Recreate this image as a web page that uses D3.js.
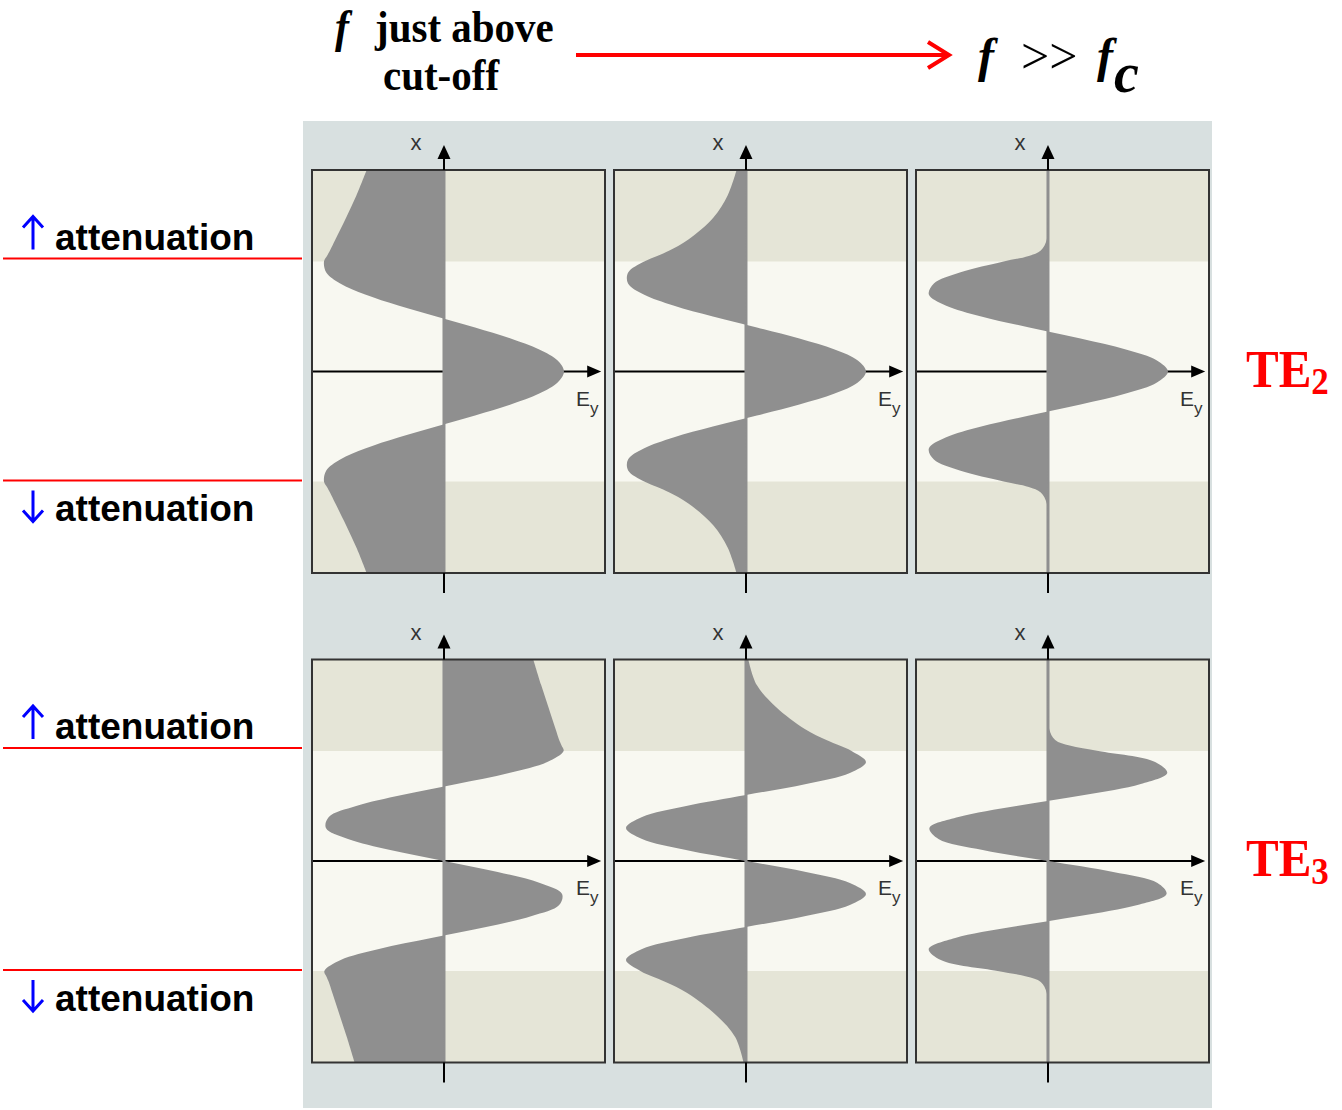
<!DOCTYPE html>
<html>
<head>
<meta charset="utf-8">
<script src="https://cdn.jsdelivr.net/npm/d3@7"></script>
<style>
body { margin: 0; background: #fff; }
svg { display: block; }
</style>
</head>
<body>
<svg class="chart"></svg>
<script>
var width = 1342, height = 1110;

// position across the slab, core edges at -1 and +1
var positions = [-1.83, -1.6, -1.4, -1.2, -1.1, -1.05, -1, -0.9, -0.8, -0.7, -0.6, -0.5, -0.4, -0.3, -0.2, -0.1, 0,
                 0.1, 0.2, 0.3, 0.4, 0.5, 0.6, 0.7, 0.8, 0.9, 1, 1.05, 1.1, 1.2, 1.4, 1.6, 1.83];

// E_y (peak = 1). near = just above cut-off, far = f >> fc
var te2Near = [-0.645, -0.73, -0.815, -0.905, -0.95, -0.975, -1.0, -0.981, -0.865, -0.657, -0.381, -0.064, 0.259, 0.556, 0.794, 0.947, 1.0,
               0.947, 0.794, 0.556, 0.259, -0.064, -0.381, -0.657, -0.865, -0.981, -1.0, -0.975, -0.95, -0.905, -0.815, -0.73, -0.645];
var te2Mid = [-0.079, -0.153, -0.271, -0.48, -0.638, -0.74, -0.848, -0.982, -0.983, -0.852, -0.605, -0.276, 0.091, 0.445, 0.739, 0.932, 1.0,
              0.932, 0.739, 0.445, 0.091, -0.276, -0.605, -0.852, -0.983, -0.982, -0.848, -0.74, -0.638, -0.48, -0.271, -0.153, -0.079];
var te2Far = [0, 0, 0, -0.01, -0.06, -0.16, -0.37, -0.735, -0.951, -0.993, -0.853, -0.556, -0.156, 0.271, 0.649, 0.908, 1.0,
              0.908, 0.649, 0.271, -0.156, -0.556, -0.853, -0.993, -0.951, -0.735, -0.37, -0.16, -0.06, -0.01, 0, 0, 0];
var te3Near = [-0.745, -0.81, -0.87, -0.93, -0.96, -0.98, -0.997, -0.861, -0.542, -0.106, 0.351, 0.732, 0.96, 0.984, 0.8, 0.448, 0,
               -0.448, -0.8, -0.984, -0.96, -0.732, -0.351, 0.106, 0.542, 0.861, 0.997, 0.98, 0.96, 0.93, 0.87, 0.81, 0.745];
var te3Mid = [-0.02, -0.09, -0.25, -0.49, -0.67, -0.78, -0.88, -1.0, -0.866, -0.502, 0, 0.498, 0.866, 1.0, 0.866, 0.5, 0,
              -0.5, -0.866, -1.0, -0.866, -0.498, 0, 0.502, 0.866, 1.0, 0.88, 0.78, 0.67, 0.49, 0.25, 0.09, 0.02];
var te3Far = [0, 0, 0, -0.01, -0.06, -0.18, -0.42, -0.893, -0.994, -0.773, -0.303, 0.264, 0.746, 0.988, 0.913, 0.544, 0,
              -0.544, -0.913, -0.988, -0.746, -0.264, 0.303, 0.773, 0.994, 0.893, 0.42, 0.18, 0.06, 0.01, 0, 0, 0];

var modeNumbers = ["2", "3"];
var attenuationArrows = ["up", "down"];

var panels = [
    {row: 0, col: 0, values: te2Near}, {row: 0, col: 1, values: te2Mid}, {row: 0, col: 2, values: te2Far},
    {row: 1, col: 0, values: te3Near}, {row: 1, col: 1, values: te3Mid}, {row: 1, col: 2, values: te3Far}
];

var boxW = 293, boxH = 403;
var colX = [312, 614, 916];
var rowY = [170, 659.5];

var chart = d3.select(".chart")
    .attr("width", width)
    .attr("height", height);

var y_scale = d3.scaleLinear()
    .domain([-1.832, 1.832])
    .range([boxH, 0]);

var x_scale = d3.scaleLinear()
    .domain([-1.1, 1.342])
    .range([0, boxW]);

var area = d3.area()
    .curve(d3.curveCatmullRom.alpha(0.5))
    .y(function(d) { return y_scale(d[0]); })
    .x0(x_scale(0))
    .x1(function(d) { return x_scale(d[1]); });

// grey backdrop behind the six panels
chart.append("rect")
    .attr("x", 303).attr("y", 121)
    .attr("width", 909).attr("height", 987)
    .attr("fill", "#d8e0e0");

var panel = chart.selectAll("g.panel")
    .data(panels)
    .enter().append("g")
    .attr("class", "panel")
    .attr("transform", function(d) {
        return "translate(" + colX[d.col] + "," + rowY[d.row] + ")";
    });

// cladding + core
panel.append("rect")
    .attr("width", boxW).attr("height", boxH)
    .attr("fill", "#e5e5d7");

panel.append("rect")
    .attr("y", y_scale(1))
    .attr("width", boxW)
    .attr("height", y_scale(-1) - y_scale(1))
    .attr("fill", "#f8f8f1");

// horizontal axis (under the field)
panel.append("line")
    .attr("x1", 0).attr("x2", x_scale(1.26))
    .attr("y1", y_scale(0)).attr("y2", y_scale(0))
    .attr("stroke", "#000").attr("stroke-width", 2);

panel.append("path")
    .attr("d", function() {
        var tip = x_scale(1.31), y0 = y_scale(0);
        return "M" + tip + "," + y0 + "L" + (tip - 14) + "," + (y0 - 6) + "L" + (tip - 14) + "," + (y0 + 6) + "Z";
    })
    .attr("fill", "#000");

panel.append("line")
    .attr("x1", x_scale(0)).attr("x2", x_scale(0))
    .attr("y1", 0).attr("y2", boxH)
    .attr("stroke", "#8f8f8f").attr("stroke-width", 3);

// field profile
panel.append("path")
    .attr("d", function(d) { return area(d3.zip(positions, d.values)); })
    .attr("fill", "#8f8f8f");

panel.append("rect")
    .attr("width", boxW).attr("height", boxH)
    .attr("fill", "none")
    .attr("stroke", "#333").attr("stroke-width", 2);

// vertical axis outside the box
panel.append("line")
    .attr("x1", x_scale(0)).attr("x2", x_scale(0))
    .attr("y1", -13).attr("y2", 0)
    .attr("stroke", "#000").attr("stroke-width", 2);

panel.append("line")
    .attr("x1", x_scale(0)).attr("x2", x_scale(0))
    .attr("y1", boxH).attr("y2", boxH + 20)
    .attr("stroke", "#000").attr("stroke-width", 2);

panel.append("path")
    .attr("d", function() {
        var x0 = x_scale(0);
        return "M" + x0 + ",-25L" + (x0 - 6.5) + ",-11L" + (x0 + 6.5) + ",-11Z";
    })
    .attr("fill", "#000");

panel.append("text")
    .attr("x", x_scale(0) - 28).attr("y", -20)
    .attr("text-anchor", "middle")
    .style("font", "22px 'Liberation Sans', Arial, sans-serif")
    .attr("fill", "#333")
    .text("x");

var ey = panel.append("text")
    .attr("x", x_scale(0) + 132).attr("y", y_scale(0) + 34)
    .style("font", "21px 'Liberation Sans', Arial, sans-serif")
    .attr("fill", "#333");
ey.append("tspan").text("E");
ey.append("tspan").attr("dy", 8).style("font-size", "17px").text("y");

// attenuation markers on the left
modeNumbers.forEach(function(m, r) {
    var lines = [rowY[r] + y_scale(1) - 3, rowY[r] + y_scale(-1) - 1];
    lines.forEach(function(ly, i) {
        chart.append("line")
            .attr("x1", 3).attr("x2", 302)
            .attr("y1", ly).attr("y2", ly)
            .attr("stroke", "#ff0000").attr("stroke-width", 2);

        var base = attenuationArrows[i] == "up" ? ly - 9 : ly + 41;
        var ax = 33;
        var d;
        if (attenuationArrows[i] == "up") {
            d = "M" + ax + "," + base + "V" + (base - 33) +
                "M" + (ax - 10) + "," + (base - 22) + "L" + ax + "," + (base - 33) + "L" + (ax + 10) + "," + (base - 22);
        } else {
            d = "M" + ax + "," + (base - 31) + "V" + base +
                "M" + (ax - 10) + "," + (base - 11) + "L" + ax + "," + base + "L" + (ax + 10) + "," + (base - 11);
        }
        chart.append("path")
            .attr("d", d)
            .attr("fill", "none")
            .attr("stroke", "#0000ff").attr("stroke-width", 3);

        chart.append("text")
            .attr("x", 55).attr("y", base)
            .style("font", "bold 37px 'Liberation Sans', Arial, sans-serif")
            .attr("fill", "#000")
            .text("attenuation");
    });

    // TE mode label on the right
    var yc = rowY[r] + y_scale(0);
    var te = chart.append("g")
        .attr("transform", "translate(1246," + (yc + 15) + ") scale(1,1.08)");
    var teText = te.append("text")
        .style("font", "bold 49px 'Liberation Serif', 'Times New Roman', serif")
        .attr("fill", "#ff0000");
    teText.append("tspan").text("TE");
    teText.append("tspan").attr("dy", 7).style("font-size", "35px").text(m);
});

// header: frequency going from just above cut-off to f >> fc
var serif = "'Liberation Serif', 'Times New Roman', serif";
var head = chart.append("g").attr("transform", "translate(0,42) scale(1,1.1)");
head.append("text").attr("x", 335).attr("y", 0)
    .style("font", "italic bold 42px " + serif).text("f");
head.append("text").attr("x", 375).attr("y", 0)
    .style("font", "bold 41px " + serif).text("just above");
head.append("text").attr("x", 383).attr("y", 44)
    .style("font", "bold 41px " + serif).text("cut-off");

chart.append("text").attr("x", 978).attr("y", 72)
    .style("font", "italic bold 48px " + serif).text("f");
chart.append("text").attr("x", 1021).attr("y", 73)
    .style("font", "50px " + serif).text(">>");
var fc = chart.append("text").attr("x", 1097).attr("y", 72)
    .style("font", "italic bold 48px " + serif);
fc.append("tspan").text("f");
fc.append("tspan").attr("x", 1114).attr("dy", 20).style("font-size", "56px").text("c");

chart.append("line")
    .attr("x1", 576).attr("x2", 946)
    .attr("y1", 55).attr("y2", 55)
    .attr("stroke", "#ff0000").attr("stroke-width", 4);

chart.append("path")
    .attr("d", "M928,42L949,55L928,68")
    .attr("fill", "none")
    .attr("stroke", "#ff0000").attr("stroke-width", 4);
</script>
</body>
</html>
